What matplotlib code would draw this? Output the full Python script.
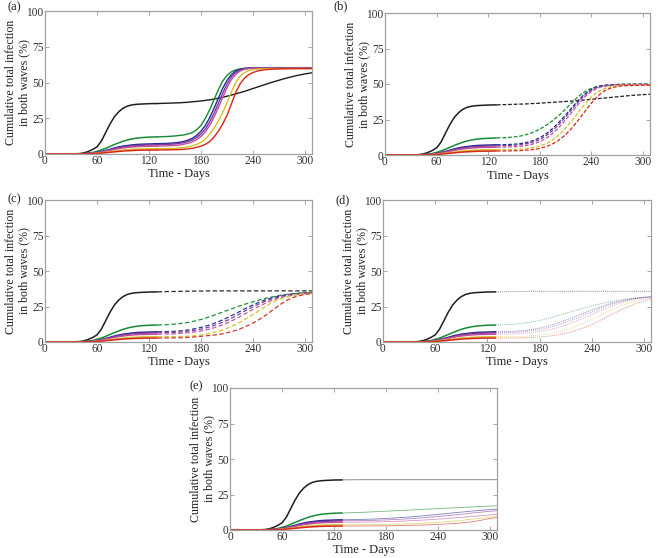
import matplotlib
matplotlib.use("Agg")
import matplotlib.pyplot as plt

plt.rcParams['font.family'] = ['Liberation Serif', 'DejaVu Serif']

# ---------------- data ----------------
day1 = [0, 10, 20, 30, 40, 45, 50, 55, 60, 65, 70, 75, 80, 85, 90, 95, 100, 105, 110, 120, 130]
day2 = [130, 140, 150, 155, 160, 165, 170, 175, 180, 185, 190, 195, 200, 205, 210, 215, 220, 225,
        230, 235, 240, 245, 250, 255, 260, 265, 270, 275, 280, 290, 300, 310]

series_names = ['black', 'green', 'blue', 'purple', 'magenta', 'yellow', 'red']

# first wave (shared by all panels)
w1_black = [0, 0, 0, 0.05, 0.3, 0.8, 1.8, 3.2, 5.0, 9.0, 15.0, 21.0, 26.0, 29.5, 32.0, 33.5, 34.3, 34.7, 34.9, 35.2, 35.3]
w1_green = [0, 0, 0, 0, 0.1, 0.3, 0.6, 1.1, 1.8, 2.8, 4.0, 5.3, 6.6, 7.8, 8.9, 9.8, 10.5, 11.0, 11.4, 11.8, 12.0]
w1_blue = [0, 0, 0, 0, 0.05, 0.2, 0.4, 0.7, 1.1, 1.7, 2.5, 3.3, 4.2, 4.9, 5.5, 5.9, 6.3, 6.6, 6.8, 7.0, 7.2]
w1_purple = [0, 0, 0, 0, 0.05, 0.15, 0.35, 0.6, 1.0, 1.5, 2.2, 2.9, 3.7, 4.4, 4.9, 5.3, 5.7, 5.9, 6.1, 6.3, 6.5]
w1_magenta = [0, 0, 0, 0, 0.04, 0.12, 0.3, 0.5, 0.8, 1.3, 1.9, 2.5, 3.2, 3.8, 4.2, 4.6, 4.9, 5.1, 5.3, 5.4, 5.5]
w1_yellow = [0, 0, 0, 0, 0.03, 0.08, 0.2, 0.35, 0.55, 0.85, 1.2, 1.6, 2.0, 2.4, 2.7, 3.0, 3.2, 3.35, 3.5, 3.6, 3.7]
w1_red = [0, 0, 0, 0, 0.02, 0.06, 0.15, 0.26, 0.42, 0.65, 0.92, 1.2, 1.5, 1.8, 2.05, 2.25, 2.4, 2.55, 2.65, 2.75, 2.8]

# second wave, panel (a)
a_black = [35.3, 35.5, 35.7, 35.8, 36.0, 36.2, 36.5, 36.8, 37.1, 37.5, 37.9, 38.4, 39.0, 39.7, 40.4, 41.2, 42.0, 42.9,
           43.8, 44.8, 45.8, 46.8, 47.8, 48.8, 49.8, 50.7, 51.6, 52.5, 53.3, 54.8, 56.0, 57.0]
a_green = [12.0, 12.2, 12.6, 13.0, 13.3, 14.0, 15.0, 17.0, 20.0, 25.0, 31.0, 38.0, 45.0, 51.0, 55.0, 57.5, 58.8, 59.5,
           59.9, 60.1, 60.2, 60.3, 60.3, 60.3, 60.4, 60.4, 60.4, 60.4, 60.4, 60.4, 60.4, 60.4]
a_blue = [7.2, 7.4, 7.8, 8.2, 8.8, 9.7, 11.0, 13.0, 16.0, 20.0, 25.5, 32.0, 39.0, 46.0, 51.5, 55.5, 58.0, 59.2,
          59.8, 60.1, 60.2, 60.2, 60.2, 60.2, 60.2, 60.2, 60.2, 60.2, 60.2, 60.2, 60.2, 60.2]
a_purple = [6.5, 6.7, 7.0, 7.4, 7.9, 8.7, 9.8, 11.5, 14.0, 17.5, 22.5, 28.5, 35.5, 42.5, 49.0, 54.0, 57.0, 58.7,
            59.5, 59.9, 60.1, 60.1, 60.1, 60.1, 60.1, 60.1, 60.1, 60.1, 60.1, 60.1, 60.1, 60.1]
a_magenta = [5.5, 5.7, 6.0, 6.3, 6.8, 7.5, 8.5, 10.0, 12.3, 15.5, 20.0, 25.8, 32.5, 39.5, 46.5, 52.0, 55.8, 58.0,
             59.2, 59.7, 60.0, 60.0, 60.0, 60.0, 60.0, 60.0, 60.0, 60.0, 60.0, 60.0, 60.0, 60.0]
a_yellow = [3.7, 3.8, 4.0, 4.2, 4.5, 5.0, 5.7, 6.7, 8.2, 10.5, 13.8, 18.0, 23.0, 29.0, 36.0, 43.5, 50.0, 54.5,
            57.0, 58.3, 59.0, 59.3, 59.5, 59.6, 59.7, 59.7, 59.7, 59.7, 59.8, 59.8, 59.8, 59.8]
a_red = [2.8, 2.9, 3.0, 3.1, 3.3, 3.6, 4.0, 4.6, 5.5, 6.8, 8.8, 11.8, 16.0, 21.0, 27.0, 35.0, 43.0, 49.0,
         53.0, 55.5, 57.0, 58.0, 58.6, 59.0, 59.2, 59.4, 59.5, 59.6, 59.6, 59.7, 59.7, 59.7]

# second wave, panel (b)
b_black = [35.3, 35.5, 35.7, 35.8, 35.9, 36.0, 36.2, 36.3, 36.5, 36.7, 36.9, 37.1, 37.3, 37.5, 37.7, 37.9, 38.1, 38.3,
           38.6, 38.9, 39.2, 39.5, 39.8, 40.1, 40.4, 40.7, 41.0, 41.3, 41.6, 42.1, 42.5, 42.9]
b_green = [12.0, 12.2, 12.7, 13.1, 13.7, 14.5, 15.5, 16.8, 18.3, 20.0, 22.0, 24.3, 26.8, 29.5, 32.5, 35.5, 38.5, 41.3,
           43.7, 45.6, 47.0, 48.0, 48.7, 49.1, 49.4, 49.6, 49.7, 49.8, 49.8, 49.9, 49.9, 49.9]
b_blue = [7.2, 7.3, 7.6, 7.9, 8.3, 8.9, 9.7, 10.8, 12.2, 14.0, 16.2, 18.8, 21.7, 24.9, 28.3, 31.8, 35.3, 38.7,
          41.8, 44.3, 46.2, 47.6, 48.5, 49.0, 49.3, 49.5, 49.6, 49.7, 49.7, 49.8, 49.8, 49.8]
b_purple = [6.5, 6.6, 6.9, 7.1, 7.5, 8.0, 8.7, 9.7, 11.0, 12.7, 14.8, 17.3, 20.2, 23.4, 26.9, 30.5, 34.1, 37.7,
            40.9, 43.6, 45.6, 47.1, 48.1, 48.7, 49.1, 49.3, 49.5, 49.6, 49.6, 49.7, 49.7, 49.7]
b_magenta = [5.5, 5.6, 5.8, 6.0, 6.3, 6.8, 7.4, 8.3, 9.5, 11.0, 12.9, 15.3, 18.1, 21.3, 24.8, 28.5, 32.3, 36.0,
             39.5, 42.5, 44.8, 46.5, 47.7, 48.4, 48.9, 49.2, 49.4, 49.5, 49.5, 49.6, 49.6, 49.6]
b_yellow = [3.7, 3.8, 3.9, 4.1, 4.3, 4.6, 5.0, 5.6, 6.4, 7.5, 8.9, 10.7, 13.0, 15.8, 19.0, 22.6, 26.4, 30.3,
            34.1, 37.7, 40.8, 43.4, 45.4, 46.8, 47.8, 48.4, 48.8, 49.1, 49.2, 49.4, 49.5, 49.5]
b_red = [2.8, 2.85, 2.95, 3.05, 3.2, 3.4, 3.7, 4.1, 4.7, 5.5, 6.5, 7.9, 9.6, 11.8, 14.4, 17.5, 21.0, 24.8,
         28.8, 32.8, 36.6, 40.0, 42.9, 45.1, 46.6, 47.6, 48.2, 48.6, 48.8, 49.0, 49.1, 49.1]

# second wave, panel (c)
c_black = [35.3, 35.5, 35.6, 35.7, 35.7, 35.8, 35.8, 35.9, 35.9, 35.9, 36.0, 36.0, 36.0, 36.0, 36.0, 36.0, 36.0, 36.0,
           36.0, 36.0, 36.0, 36.0, 36.0, 36.0, 36.0, 36.0, 36.0, 36.0, 36.0, 36.0, 36.0, 36.0]
c_green = [12.0, 12.2, 12.6, 12.9, 13.3, 13.8, 14.4, 15.1, 15.9, 16.8, 17.8, 18.9, 20.0, 21.1, 22.2, 23.3, 24.4, 25.5,
           26.5, 27.4, 28.3, 29.2, 30.0, 30.8, 31.5, 32.1, 32.7, 33.2, 33.6, 34.3, 34.8, 35.1]
c_blue = [7.2, 7.3, 7.6, 7.8, 8.1, 8.5, 9.0, 9.6, 10.3, 11.1, 12.0, 13.1, 14.3, 15.6, 17.0, 18.5, 20.0, 21.6,
          23.2, 24.7, 26.1, 27.5, 28.7, 29.8, 30.8, 31.6, 32.3, 32.9, 33.4, 34.1, 34.6, 34.9]
c_purple = [6.5, 6.6, 6.8, 7.0, 7.3, 7.6, 8.0, 8.5, 9.1, 9.8, 10.6, 11.6, 12.7, 13.9, 15.2, 16.7, 18.3, 19.9,
            21.6, 23.2, 24.8, 26.3, 27.7, 28.9, 30.0, 30.9, 31.7, 32.4, 33.0, 33.8, 34.4, 34.8]
c_magenta = [5.5, 5.6, 5.8, 6.0, 6.2, 6.5, 6.9, 7.3, 7.8, 8.4, 9.1, 10.0, 11.0, 12.1, 13.4, 14.8, 16.3, 17.9,
             19.6, 21.3, 23.0, 24.6, 26.1, 27.5, 28.8, 29.9, 30.9, 31.7, 32.4, 33.4, 34.1, 34.6]
c_yellow = [3.7, 3.75, 3.8, 3.85, 3.95, 4.1, 4.3, 4.6, 5.0, 5.5, 6.1, 6.8, 7.6, 8.5, 9.6, 11.0, 12.5, 14.0,
            15.7, 17.5, 19.4, 21.4, 23.4, 25.3, 27.1, 28.7, 30.1, 31.2, 32.1, 33.4, 34.1, 34.5]
c_red = [2.8, 2.85, 2.9, 3.0, 3.1, 3.25, 3.45, 3.7, 4.0, 4.3, 4.6, 4.9, 5.2, 5.8, 6.5, 7.3, 8.2, 9.3,
         10.5, 11.9, 13.4, 15.1, 17.0, 19.1, 21.3, 23.6, 25.8, 27.9, 29.7, 32.2, 33.5, 34.1]

# second wave, panel (d)
d_black = [35.3, 35.4, 35.5, 35.5, 35.6, 35.6, 35.6, 35.7, 35.7, 35.7, 35.7, 35.7, 35.7, 35.7, 35.7, 35.7, 35.7, 35.7,
           35.7, 35.7, 35.7, 35.7, 35.7, 35.7, 35.7, 35.7, 35.7, 35.7, 35.7, 35.7, 35.7, 35.7]
d_green = [12.0, 12.2, 12.5, 12.8, 13.1, 13.5, 14.0, 14.6, 15.2, 15.9, 16.7, 17.5, 18.4, 19.3, 20.2, 21.1, 22.0, 22.9,
           23.8, 24.6, 25.4, 26.2, 26.9, 27.6, 28.2, 28.8, 29.3, 29.8, 30.2, 30.9, 31.4, 31.8]
d_blue = [7.2, 7.3, 7.5, 7.7, 8.0, 8.3, 8.7, 9.2, 9.8, 10.5, 11.3, 12.2, 13.2, 14.3, 15.4, 16.6, 17.8, 19.0,
          20.2, 21.4, 22.6, 23.7, 24.8, 25.8, 26.8, 27.7, 28.5, 29.2, 29.8, 30.8, 31.5, 32.0]
d_purple = [6.5, 6.6, 6.8, 6.95, 7.2, 7.5, 7.9, 8.3, 8.8, 9.4, 10.1, 10.9, 11.8, 12.8, 13.9, 15.0, 16.2, 17.4,
            18.7, 20.0, 21.2, 22.5, 23.7, 24.9, 26.0, 27.0, 27.9, 28.7, 29.4, 30.6, 31.4, 31.9]
d_magenta = [5.5, 5.6, 5.75, 5.9, 6.1, 6.35, 6.65, 7.0, 7.4, 7.9, 8.5, 9.2, 10.0, 10.9, 11.9, 13.0, 14.2, 15.4,
             16.7, 18.0, 19.4, 20.8, 22.1, 23.4, 24.6, 25.8, 26.9, 27.8, 28.7, 30.1, 31.1, 31.7]
d_yellow = [3.7, 3.72, 3.8, 3.85, 3.95, 4.1, 4.3, 4.55, 4.85, 5.2, 5.7, 6.2, 6.9, 7.7, 8.6, 9.6, 10.7, 11.9,
            13.2, 14.6, 16.0, 17.5, 19.0, 20.5, 22.0, 23.4, 24.7, 25.9, 27.0, 28.8, 30.1, 31.0]
d_red = [2.8, 2.82, 2.86, 2.9, 2.97, 3.05, 3.2, 3.35, 3.55, 3.8, 4.1, 4.5, 4.95, 5.5, 6.1, 6.9, 7.8, 8.8,
         9.9, 11.1, 12.4, 13.8, 15.3, 16.8, 18.4, 20.0, 21.5, 23.0, 24.4, 26.9, 28.9, 30.4]

# second wave, panel (e)
e_black = [35.3, 35.35, 35.4, 35.4, 35.4, 35.4, 35.4, 35.4, 35.4, 35.4, 35.4, 35.4, 35.4, 35.4, 35.4, 35.4, 35.4, 35.4,
           35.4, 35.4, 35.4, 35.4, 35.4, 35.4, 35.4, 35.4, 35.4, 35.4, 35.4, 35.4, 35.4, 35.4]
e_green = [12.0, 12.2, 12.4, 12.5, 12.65, 12.8, 12.95, 13.1, 13.25, 13.4, 13.55, 13.7, 13.85, 14.0, 14.15, 14.3, 14.45, 14.6,
           14.75, 14.9, 15.05, 15.2, 15.35, 15.5, 15.65, 15.8, 15.95, 16.1, 16.25, 16.55, 16.85, 17.1]
e_blue = [7.2, 7.3, 7.4, 7.5, 7.6, 7.7, 7.85, 8.0, 8.15, 8.3, 8.5, 8.7, 8.9, 9.1, 9.35, 9.6, 9.85, 10.1,
          10.4, 10.7, 11.0, 11.3, 11.6, 11.9, 12.2, 12.5, 12.8, 13.1, 13.4, 13.9, 14.4, 14.8]
e_purple = [6.5, 6.55, 6.6, 6.65, 6.7, 6.8, 6.9, 7.0, 7.1, 7.25, 7.4, 7.55, 7.7, 7.9, 8.1, 8.3, 8.5, 8.75,
            9.0, 9.25, 9.5, 9.8, 10.1, 10.4, 10.7, 11.0, 11.3, 11.65, 12.0, 12.6, 13.2, 13.7]
e_magenta = [5.5, 5.5, 5.55, 5.6, 5.65, 5.7, 5.75, 5.8, 5.9, 6.0, 6.1, 6.2, 6.3, 6.45, 6.6, 6.75, 6.9, 7.05,
             7.25, 7.45, 7.65, 7.85, 8.05, 8.3, 8.55, 8.8, 9.05, 9.3, 9.55, 10.1, 10.6, 11.1]
e_yellow = [3.7, 3.7, 3.72, 3.74, 3.76, 3.8, 3.84, 3.88, 3.94, 4.0, 4.08, 4.16, 4.26, 4.36, 4.48, 4.6, 4.74, 4.9,
            5.06, 5.24, 5.44, 5.66, 5.9, 6.15, 6.42, 6.7, 7.0, 7.3, 7.62, 8.3, 9.0, 9.6]
e_red = [2.8, 2.8, 2.82, 2.84, 2.86, 2.88, 2.9, 2.93, 2.96, 3.0, 3.05, 3.1, 3.16, 3.23, 3.3, 3.38, 3.47, 3.57,
         3.68, 3.8, 3.93, 4.08, 4.24, 4.4, 4.65, 4.9, 5.2, 5.5, 5.8, 6.9, 8.1, 9.0]

x_ticks = [0, 60, 120, 180, 240, 300]
y_ticks = [0, 25, 50, 75, 100]
panel_labels = ['(a)', '(b)', '(c)', '(d)', '(e)']
y_label = 'Cumulative total infection\nin both waves (%)'
x_label = 'Time - Days'

# ---------------- styling ----------------
colors = {'black': '#1e1e1e', 'green': '#178a35', 'blue': '#232a96', 'purple': '#7d3a9e',
          'magenta': '#c0509a', 'yellow': '#d2c224', 'red': '#d7261e'}

first = [w1_black, w1_green, w1_blue, w1_purple, w1_magenta, w1_yellow, w1_red]
second = {
    '(a)': [a_black, a_green, a_blue, a_purple, a_magenta, a_yellow, a_red],
    '(b)': [b_black, b_green, b_blue, b_purple, b_magenta, b_yellow, b_red],
    '(c)': [c_black, c_green, c_blue, c_purple, c_magenta, c_yellow, c_red],
    '(d)': [d_black, d_green, d_blue, d_purple, d_magenta, d_yellow, d_red],
    '(e)': [e_black, e_green, e_blue, e_purple, e_magenta, e_yellow, e_red],
}
styles = {
    '(a)': dict(ls='-', lw=1.0, alpha=1.0),
    '(b)': dict(ls=(0, (3.0, 1.5)), lw=0.9, alpha=1.0),
    '(c)': dict(ls=(0, (3.5, 2.0)), lw=0.9, alpha=0.95),
    '(d)': dict(ls=(0, (1.0, 1.0)), lw=0.7, alpha=0.5),
    '(e)': dict(ls='-', lw=0.6, alpha=0.6),
}

W, H = 659, 558
fig = plt.figure(figsize=(W / 100, H / 100), dpi=100)

# axes boxes in pixels: left, top, right, bottom
boxes = {
    '(a)': (45, 11, 312, 154),
    '(b)': (385, 13, 650, 155),
    '(c)': (45, 200, 312, 342),
    '(d)': (383, 200, 651, 342),
    '(e)': (230, 388, 497, 530),
}
label_pos = {'(a)': (7, 7), '(b)': (333, 6), '(c)': (7, 199), '(d)': (335, 200), '(e)': (190, 386)}

for lab in panel_labels:
    l, t, r, b = boxes[lab]
    w, h = r - l, b - t
    ax = fig.add_axes([l / W, 1 - b / H, w / W, h / H])
    st = styles[lab]
    for name, w1, w2 in zip(series_names, first, second[lab]):
        c = colors[name]
        ax.plot(day1, w1, color=c, lw=1.1, solid_capstyle='butt')
        ax.plot(day2, w2, color=c, lw=st['lw'], ls=st['ls'], alpha=st['alpha'])
    ax.set_xlim(0, 308)
    ax.set_ylim(0, 100)
    ax.set_xticks(x_ticks)
    ax.set_yticks(y_ticks)
    ax.tick_params(direction='in', top=True, right=True, length=3, width=0.6,
                   colors='#999999', labelcolor='#333333', labelsize=8.3, pad=1.0)
    for sp in ax.spines.values():
        sp.set_color('#a0a0a0')
        sp.set_linewidth(0.9)
    ax.set_xlabel(x_label, fontsize=9, color='#222222')
    ax.xaxis.set_label_coords(0.5, -14.5 / h)
    ax.set_ylabel(y_label, fontsize=8.6, linespacing=1.15, color='#222222')
    ax.yaxis.set_label_coords(-15.0 / w, 0.5)
    fx, fy = label_pos[lab]
    fig.text(fx / W, 1 - fy / H, lab, fontsize=9, va='center', ha='left', color='#222222')

fig.savefig('out.png', dpi=100)
